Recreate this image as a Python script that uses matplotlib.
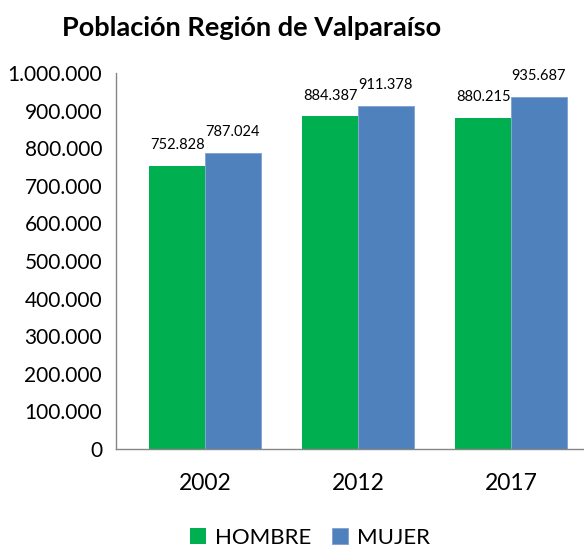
import numpy as np
import matplotlib.pyplot as plt

plt.rcParams['font.family'] = ['Lato', 'DejaVu Sans']

years = ['2002', '2012', '2017']
hombre = [752828, 884387, 880215]
mujer = [787024, 911378, 935687]
series_names = ['HOMBRE', 'MUJER']
colors = ['#00B050', '#4F81BD']


def fmt(v):
    return f'{v:,}'.replace(',', '.')


fig = plt.figure(figsize=(5.84, 5.5), dpi=100)
ax = fig.add_axes([116 / 584, 1 - 449 / 550, 1 - 116 / 584, (449 - 73) / 550])

x = np.arange(len(years))
w = 0.363
b1 = ax.bar(x - w / 2, hombre, w, color=colors[0], label=series_names[0])
b2 = ax.bar(x + w / 2, mujer, w, color=colors[1], edgecolor='#7FA2D0',
            linewidth=0.6, label=series_names[1])

for bars, vals in ((b1, hombre), (b2, mujer)):
    for rect, v in zip(bars, vals):
        ax.annotate(fmt(v), (rect.get_x() + rect.get_width() / 2, v),
                    xytext=(0, 10), textcoords='offset points',
                    ha='center', va='bottom', fontsize=10.5)

ax.set_ylim(0, 1000000)
ax.set_yticks(np.arange(0, 1000001, 100000))
ax.set_yticklabels([fmt(v) for v in range(0, 1000001, 100000)], fontsize=15)
ax.set_xlim((116 - 205) / 153, (584 - 205) / 153)
ax.set_xticks(x)
ax.set_xticklabels(years, fontsize=16.5)
ax.tick_params(length=0)
ax.tick_params(axis='y', pad=10)
ax.tick_params(axis='x', pad=17)

for s in ('top', 'right'):
    ax.spines[s].set_visible(False)
for s in ('left', 'bottom'):
    ax.spines[s].set_color('#868686')
    ax.spines[s].set_linewidth(1)

fig.text(62 / 584, 1 - 28 / 550, 'Población Región de Valparaíso',
         fontsize=19.5, fontweight='bold', ha='left', va='center')

fig.legend(handles=[b1, b2], loc='center', bbox_to_anchor=(310 / 584, 1 - 538 / 550),
           ncol=2, frameon=False, fontsize=16, handlelength=0.75,
           handleheight=0.75, handletextpad=0.4, columnspacing=0.9)

fig.savefig('out.png', dpi=100)
